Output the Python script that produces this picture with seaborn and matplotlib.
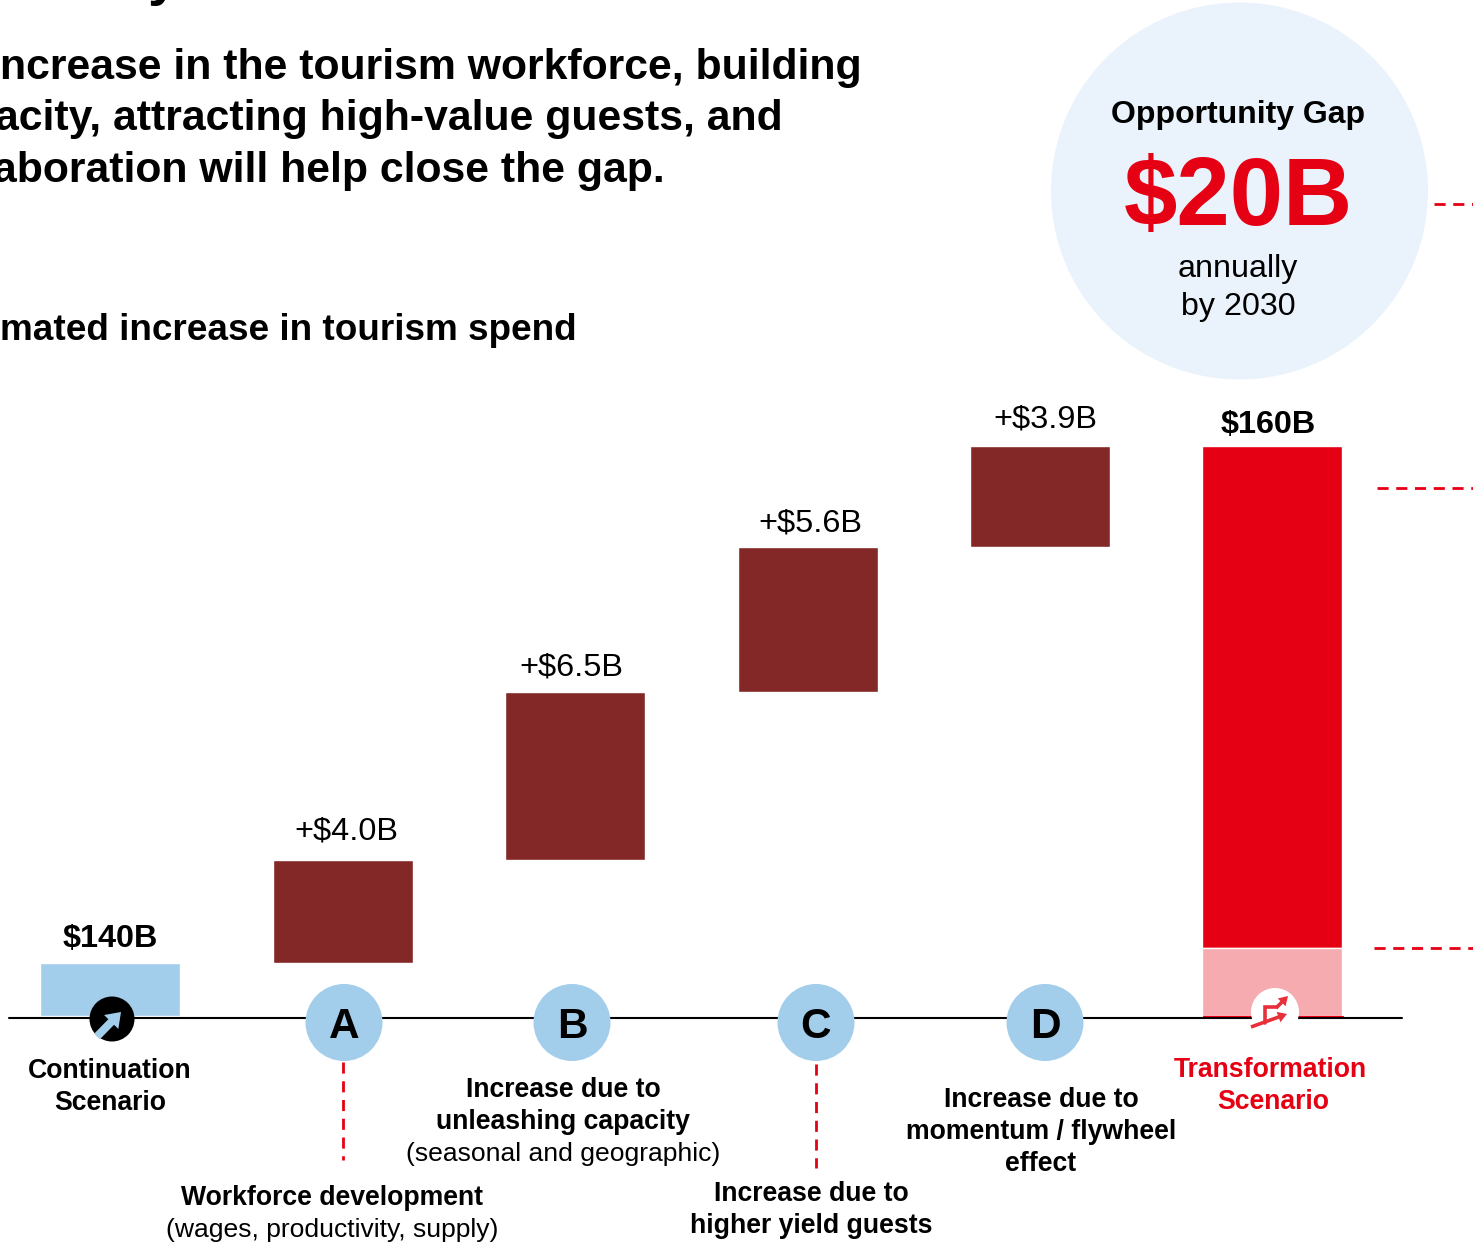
import matplotlib
matplotlib.use("Agg")
import matplotlib.pyplot as plt
import numpy as np
import seaborn as sns
from matplotlib.patches import Circle

WIDTH, HEIGHT = 1473, 1242
BLUE = "#A2CDEB"
DARK_RED = "#832826"
RED = "#E60013"
PINK = "#F6ABB0"
PALE = "#EAF3FB"

steps = ["Continuation", "A", "B", "C", "D", "Transformation"]
start_value = 140.0
end_value = 160.0
increments = [4.0, 6.5, 5.6, 3.9]
axis_base = 137.95
pink_top = 140.58

value_labels = ["$140B", "+$4.0B", "+$6.5B", "+$5.6B", "+$3.9B", "$160B"]
letters = ["A", "B", "C", "D"]
heading = [
    "ncrease in the tourism workforce, building",
    "acity, attracting high-value guests, and",
    "aboration will help close the gap.",
]
subheading = "mated increase in tourism spend"

sns.set_theme(style="white")
plt.rcParams["font.family"] = ["Liberation Sans", "DejaVu Sans"]

fig = plt.figure(figsize=(WIDTH / 100, HEIGHT / 100), dpi=100)
ax = fig.add_axes([0, 0, 1, 1])

# floating bars, the axis does not start at zero
tops = [start_value] + list(start_value + np.cumsum(increments)) + [end_value]
bottoms = [axis_base] + tops[:4] + [pink_top]
heights = np.array(tops) - np.array(bottoms)
sns.barplot(x=steps, y=heights, bottom=bottoms, width=0.6025, color=DARK_RED, saturation=1, ax=ax)
ax.patches[0].set_facecolor(BLUE)
ax.patches[-1].set_facecolor(RED)
sns.barplot(x=steps[-1:], y=[pink_top - axis_base], bottom=axis_base, width=0.6025, color=PINK, saturation=1, ax=ax,
            order=steps)

px_per_step = 232.4
px_per_value = 25.85
x_origin, y_origin = 110.4, 963.2
ax.set_xlim(-x_origin / px_per_step, (WIDTH - x_origin) / px_per_step)
ax.set_ylim(start_value - (HEIGHT - y_origin) / px_per_value, start_value + y_origin / px_per_value)
ax.axis("off")

# everything around the bars is placed in picture pixels
over = fig.add_axes([0, 0, 1, 1], facecolor="none")
over.set_xlim(0, WIDTH)
over.set_ylim(HEIGHT, 0)
over.axis("off")


def label(x, y, text, size, bold=False, color="black", ha="center"):
    over.text(x, y, text, fontsize=size, ha=ha, va="baseline", color=color,
              fontweight="bold" if bold else "normal", clip_on=True)


def dashed(xs, ys):
    over.plot(xs, ys, color=RED, lw=2, dashes=(4, 2.75), dash_capstyle="butt")


def arrow(tail, tip, shaft, head_w, head_l, color, z=4):
    over.arrow(tail[0], tail[1], tip[0] - tail[0], tip[1] - tail[1], width=shaft, head_width=head_w,
               head_length=head_l, length_includes_head=True, fc=color, ec="none", zorder=z)


# baseline and the thin red edge under the last bar
over.plot([9, 1402], [1017.5, 1017.5], color="black", lw=1.5)
over.plot([1203, 1343], [1015.5, 1015.5], color=RED, lw=0.8)

# header
label(148, -6, "y", 40, bold=True, ha="left")
for x, y, line in zip([0, -5, -7], [79, 130, 182], heading):
    label(x, y, line, 30.8, bold=True, ha="left")
label(0, 340, subheading, 26.6, bold=True, ha="left")

# opportunity bubble
over.add_patch(Circle((1239.5, 191), 188.5, fc=PALE, ec="none"))
label(1238, 123, "Opportunity Gap", 23, bold=True)
label(1238, 225, "$20B", 69, bold=True, color=RED)
label(1238, 277, "annually", 23.2)
label(1238, 315, "by 2030", 23.2)
dashed([1434, 1480], [204, 204])
dashed([1377, 1480], [488, 488])
dashed([1374, 1480], [948, 948])

# value labels
label(110, 947, value_labels[0], 23.3, bold=True)
label(346, 840, value_labels[1], 23.4)
label(571, 676, value_labels[2], 23.4)
label(810, 532, value_labels[3], 23.4)
label(1045, 428, value_labels[4], 23.4)
label(1268, 433, value_labels[5], 23.3, bold=True)

# letter badges
for x, letter in zip([344, 572, 816, 1045], letters):
    over.add_patch(Circle((x, 1022.5), 38.5, fc=BLUE, ec="none", zorder=3))
    over.text(x, 1038.5, letter, fontsize=30.5, fontweight="bold", color="black", ha="center", va="baseline", zorder=4)
dashed([343, 343], [1062, 1160])
dashed([816, 816], [1064, 1168])

# continuation icon
over.add_patch(Circle((112, 1019), 22.5, fc="black", ec="none", zorder=3))
arrow((97, 1036.5), (121, 1012), 8, 20, 14, BLUE)

# transformation icon
over.add_patch(Circle((1275, 1012), 24, fc="white", ec="none", zorder=3))
ICON = "#E8303A"
over.plot([1265, 1265, 1277], [1023, 1007, 1007], color=ICON, lw=2.6, zorder=4, solid_joinstyle="miter")
arrow((1276, 1008), (1288, 996), 3.6, 11, 9, ICON)
arrow((1251, 1027), (1287, 1014), 3.6, 11, 9, ICON)

# captions
label(110, 1078, "Continuation", 19.2, bold=True)
label(110, 1110, "Scenario", 19.2, bold=True)
label(1270, 1077, "Transformation", 19.2, bold=True, color=RED)
label(1273, 1109, "Scenario", 19.2, bold=True, color=RED)
label(332, 1205, "Workforce development", 19.2, bold=True)
label(332, 1237, "(wages, productivity, supply)", 19.05)
label(563, 1097, "Increase due to", 19.2, bold=True)
label(563, 1129, "unleashing capacity", 19.2, bold=True)
label(563, 1161, "(seasonal and geographic)", 19.05)
label(811, 1201, "Increase due to", 19.2, bold=True)
label(811, 1233, "higher yield guests", 19.2, bold=True)
label(1041, 1107, "Increase due to", 19.2, bold=True)
label(1041, 1139, "momentum / flywheel", 19.2, bold=True)
label(1041, 1171, "effect", 19.2, bold=True)

fig.savefig("out.png", dpi=100)
